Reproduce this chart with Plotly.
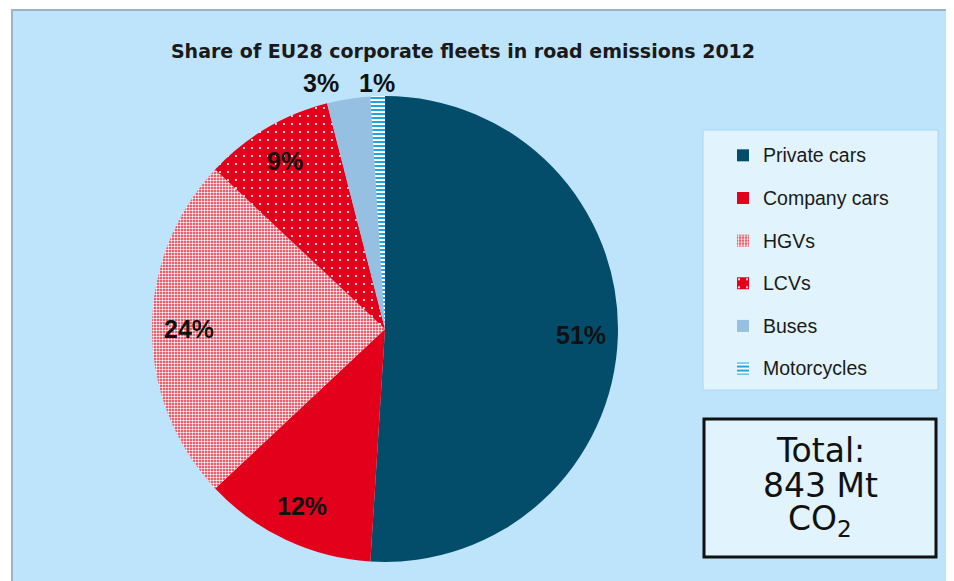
import math
import plotly.graph_objects as go

categories = ["Private cars", "Company cars", "HGVs", "LCVs", "Buses", "Motorcycles"]
shares = [51, 12, 24, 9, 3, 1]
outside_slices = ["Buses", "Motorcycles"]
title_text = "Share of EU28 corporate fleets in road emissions 2012"
total_lines = ["Total:", "843 Mt", "CO<sub>2</sub>"]

# page offset of the plot div (body margin) and figure size
OX, OY = 8, 8
W, H = 954 - OX, 581 - OY


def px(x):
    return (x - OX) / W


def py(y):
    return 1 - (y - OY) / H


colors = ["#034d6b", "#e2001a", "#e8273d", "#e2001a", "#95c0e2", "#ffffff"]
pat_shapes = ["", "", ".", ".", "", "-"]
pat_fg = ["#034d6b", "#e2001a", "#ffffff", "#ffffff", "#95c0e2", "#1ea5dc"]
pat_size = [8, 8, 3, 8, 8, 4]
pat_sol = [0.3, 0.3, 0.5, 0.06, 0.3, 0.5]

legend_labels = [f"<span style='font-size:19.5px;baseline-shift:5px'>{c}</span>" for c in categories]

cx, cy, r = 385, 329, 233

fig = go.Figure()
fig.add_trace(go.Pie(
    labels=legend_labels,
    values=shares,
    sort=False,
    direction="clockwise",
    rotation=0,
    domain=dict(x=[px(cx - r), px(cx + r)], y=[py(cy + r), py(cy - r)]),
    marker=dict(
        colors=colors,
        line=dict(width=0),
        pattern=dict(shape=pat_shapes, fgcolor=pat_fg, bgcolor=colors,
                     size=pat_size, solidity=pat_sol, fillmode="replace"),
    ),
    textinfo="none",
    hoverinfo="skip",
))

# percentage labels placed at each slice's mid-angle (computed from the data)
total = sum(shares)
label_font = dict(family="Liberation Sans", size=25, color="#111111", weight="bold")
annotations = []
cum = 0
label_pos = {}
for cat, v in zip(categories, shares):
    mid = (cum + v / 2) / total * 2 * math.pi
    cum += v
    pct = f"{round(100 * v / total)}%"
    if cat in outside_slices:
        rl = r + 13
    else:
        rl = 0.84 * r
    x = cx + rl * math.sin(mid)
    y = cy - rl * math.cos(mid)
    label_pos[cat] = (x, y, pct)

for cat, (x, y, pct) in label_pos.items():
    if cat == "Buses":
        mx = label_pos["Motorcycles"][0]
        annotations.append(dict(text=pct, xref="paper", yref="paper", x=px(mx - 36),
                                y=py(label_pos["Motorcycles"][1]), xanchor="right",
                                yanchor="middle", showarrow=False, font=label_font))
    else:
        annotations.append(dict(text=pct, xref="paper", yref="paper", x=px(x), y=py(y),
                                xanchor="center", yanchor="middle", showarrow=False,
                                font=label_font))

for line, yc in zip(total_lines, [451, 485, 520]):
    annotations.append(dict(text=line, xref="paper", yref="paper", x=px(820), y=py(yc),
                            xanchor="center", yanchor="middle", showarrow=False,
                            font=dict(family="DejaVu Sans", size=33, color="#111111")))

shapes = [
    dict(type="rect", xref="paper", yref="paper", x0=px(12), x1=1.02, y0=-0.02, y1=py(10),
         fillcolor="#bde4fb", line=dict(color="#9bb4c4", width=2), layer="below"),
    dict(type="rect", xref="paper", yref="paper", x0=px(703), x1=px(938), y0=py(390), y1=py(130),
         fillcolor="#e1f3fd", line=dict(color="#a8d6f2", width=1), layer="below"),
    dict(type="rect", xref="paper", yref="paper", x0=px(704), x1=px(936), y0=py(557), y1=py(419),
         fillcolor="#e1f3fd", line=dict(color="#111111", width=3), layer="below"),
]

fig.update_layout(
    width=W, height=H, autosize=False,
    margin=dict(l=0, r=0, t=0, b=0),
    paper_bgcolor="#ffffff",
    title=dict(text=title_text, x=px(463), xanchor="center", y=py(51), yanchor="middle",
               xref="paper", yref="paper",
               font=dict(family="DejaVu Sans", size=19, color="#1a1a1a", weight="bold")),
    showlegend=True,
    legend=dict(x=px(723), xanchor="left", y=py(129), yanchor="top",
                bgcolor="rgba(0,0,0,0)", borderwidth=0,
                font=dict(family="Liberation Sans", size=30.5, color="#1a1a1a"),
                traceorder="normal"),
    shapes=shapes,
    annotations=annotations,
)

fig.write_html("out.html")
